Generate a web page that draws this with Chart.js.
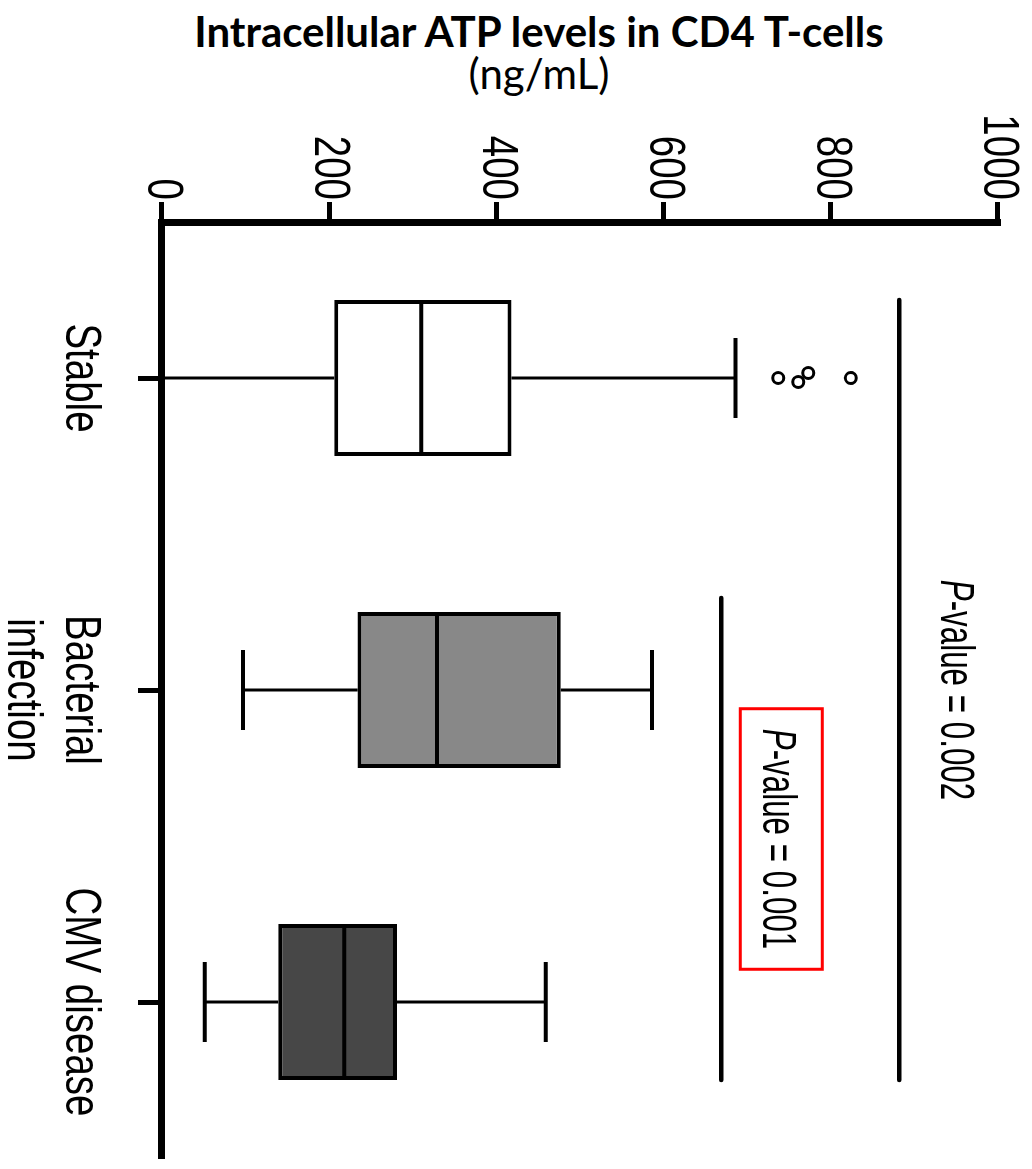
<!DOCTYPE html>
<html>
<head>
<meta charset="utf-8">
<script src="https://cdn.jsdelivr.net/npm/chart.js@4/dist/chart.umd.min.js"></script>
<style>
  body { margin: 0; background: #fff; overflow: hidden; }
  #title {
    position: absolute; left: 0; top: 10px; width: 1078px;
    text-align: center; font-family: Lato, "Open Sans", sans-serif;
    font-size: 42px; line-height: 42px; color: #000;
  }
  #title b { font-weight: 700; }
  #plot {
    position: absolute; left: 0; top: 0; width: 1069px; height: 1032px;
    transform-origin: 0 0;
    transform: translate(1032px, 100px) rotate(90deg);
  }
</style>
</head>
<body>
<div id="title"><b>Intracellular ATP levels in CD4 T-cells</b><br>(ng/mL)</div>
<div id="plot"><canvas id="atpChart" width="1069" height="1032"></canvas></div>
<script>
const categories = ["Stable", ["Bacterial", "infection"], "CMV disease"];
const whiskerLow = [0, 97, 51];
const q1 = [206, 234, 139];
const median = [310, 329, 218];
const q3 = [418, 477, 281];
const whiskerHigh = [686, 586, 459];
const outliers = [[737, 761, 773, 824], [], []];
const boxColors = ["#ffffff", "#888888", "#474747"];

// significance brackets: [from group, to group], value level, label
const bracketGroups = [[0, 2], [1, 2]];
const bracketValues = [882, 669];
const pValues = ["0.002", "0.001"];

const fontFamily = "'Liberation Sans', Arial, sans-serif";
Chart.defaults.font.family = fontFamily;
Chart.defaults.color = "#000";

// the original uses a narrow face; squeeze text horizontally instead
const axisCondense = 0.77;
const pCondense = 0.64;
// small vertical jitter of the outlier circles (px)
const outlierJitter = [[0, 4, -5, 0], [], []];
const bracketOverhang = [0, 14];

function line(ctx, x1, y1, x2, y2) {
  ctx.beginPath();
  ctx.moveTo(x1, y1);
  ctx.lineTo(x2, y2);
  ctx.stroke();
}

function condensedText(ctx, text, x, y, sx) {
  ctx.save();
  ctx.translate(x, y);
  ctx.scale(sx, 1);
  ctx.fillText(text, 0, 0);
  ctx.restore();
}

// squeeze the tick labels drawn by the scales
const condenseTicks = {
  id: "condenseTicks",
  beforeDraw(chart) {
    const ctx = chart.ctx;
    const orig = CanvasRenderingContext2D.prototype.fillText;
    ctx.fillText = function (text, x, y) {
      this.save();
      this.translate(x, y);
      this.scale(axisCondense, 1);
      orig.call(this, text, 0, 0);
      this.restore();
    };
  },
  beforeDatasetsDraw(chart) {
    delete chart.ctx.fillText;
  },
};

const boxPlotExtras = {
  id: "boxPlotExtras",
  afterDatasetsDraw(chart) {
    const { ctx } = chart;
    const x = chart.scales.x;
    const y = chart.scales.y;
    const half = chart.getDatasetMeta(0).data[0].width / 2;
    const capHalf = 40;
    ctx.save();
    ctx.strokeStyle = "#000";
    ctx.fillStyle = "#000";

    categories.forEach((c, i) => {
      const cx = x.getPixelForValue(i);
      ctx.lineWidth = 3;
      line(ctx, cx, y.getPixelForValue(q1[i]), cx, y.getPixelForValue(whiskerLow[i]));
      line(ctx, cx, y.getPixelForValue(q3[i]), cx, y.getPixelForValue(whiskerHigh[i]));
      ctx.lineWidth = 4;
      [whiskerLow[i], whiskerHigh[i]].forEach((v) => {
        const py = y.getPixelForValue(v);
        line(ctx, cx - capHalf, py, cx + capHalf, py);
      });
      const pm = y.getPixelForValue(median[i]);
      line(ctx, cx - half, pm, cx + half, pm);

      ctx.lineWidth = 3;
      outliers[i].forEach((v, k) => {
        ctx.beginPath();
        ctx.arc(cx + outlierJitter[i][k], y.getPixelForValue(v), 5.5, 0, Math.PI * 2);
        ctx.stroke();
      });
    });

    // brackets + p-values
    bracketGroups.forEach((g, b) => {
      const x1 = x.getPixelForValue(g[0]) - half - bracketOverhang[b];
      const x2 = x.getPixelForValue(g[1]) + half;
      const py = y.getPixelForValue(bracketValues[b]);
      ctx.lineWidth = 4.5;
      ctx.lineCap = "round";
      line(ctx, x1, py, x2, py);
      ctx.lineCap = "butt";

      const baseline = py - 42;
      ctx.textBaseline = "alphabetic";
      ctx.textAlign = "left";
      const rest = "-value = " + pValues[b];
      ctx.font = "italic 49px " + fontFamily;
      const wP = ctx.measureText("P").width * pCondense;
      ctx.font = "49px " + fontFamily;
      const wR = ctx.measureText(rest).width * pCondense;
      const mid = (x1 + x2) / 2;
      const start = mid - (wP + wR) / 2;
      ctx.font = "italic 49px " + fontFamily;
      condensedText(ctx, "P", start, baseline, pCondense);
      ctx.font = "49px " + fontFamily;
      condensedText(ctx, rest, start + wP, baseline, pCondense);

      if (b === 1) {
        ctx.strokeStyle = "#ff0000";
        ctx.lineWidth = 3;
        ctx.strokeRect(start - 20, baseline - 59, wP + wR + 40, 82);
        ctx.strokeStyle = "#000";
      }
    });
    ctx.restore();
  },
};

const atpChart = document.getElementById("atpChart");

new Chart(atpChart, {
  type: "bar",
  data: {
    labels: categories,
    datasets: [
      {
        data: q1.map((v, i) => [v, q3[i]]),
        backgroundColor: boxColors,
        borderColor: "#000",
        borderWidth: 4,
        borderSkipped: false,
        barPercentage: 0.5,
        categoryPercentage: 1,
      },
    ],
  },
  options: {
    responsive: false,
    animation: false,
    devicePixelRatio: 1,
    layout: {
      padding: { top: 34, right: 11, left: 0, bottom: 0 },
    },
    plugins: {
      legend: { display: false },
      tooltip: { enabled: false },
      title: { display: false },
    },
    scales: {
      x: {
        type: "category",
        offset: true,
        grid: {
          display: true,
          offset: false,
          drawOnChartArea: false,
          tickLength: 24,
          tickWidth: 5,
          tickColor: "#000",
        },
        border: { display: true, width: 7, color: "#000" },
        ticks: {
          font: { size: 50, lineHeight: 1.16 },
          color: "#000",
          padding: 29,
          maxRotation: 0,
          autoSkip: false,
        },
        afterFit: (scale) => {
          scale.height = 162;
          scale.paddingLeft = 0;
          scale.paddingRight = 0;
        },
      },
      y: {
        min: 0,
        max: 1000,
        grid: {
          display: true,
          drawOnChartArea: false,
          tickLength: 20,
          tickWidth: 5,
          tickColor: "#000",
        },
        border: { display: true, width: 7, color: "#000" },
        ticks: {
          stepSize: 200,
          font: { size: 50 },
          color: "#000",
          padding: 2,
          callback: (v) => String(v),
        },
        afterFit: (scale) => {
          scale.width = 122;
          scale.paddingTop = 0;
          scale.paddingBottom = 0;
        },
      },
    },
  },
  plugins: [condenseTicks, boxPlotExtras],
});
</script>
</body>
</html>
